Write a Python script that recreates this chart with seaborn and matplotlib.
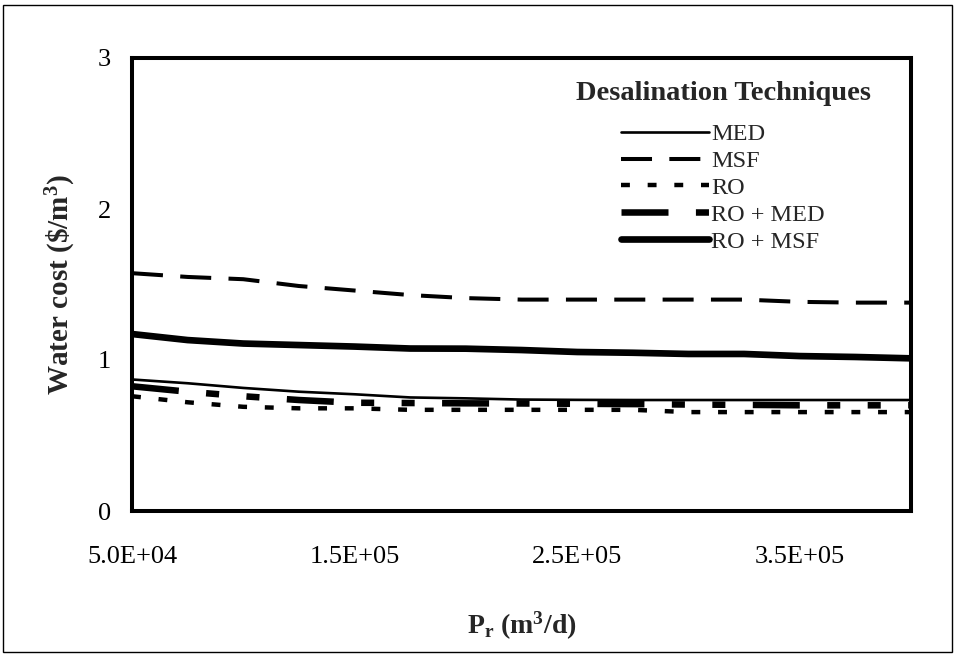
import matplotlib
matplotlib.use("Agg")
import matplotlib.pyplot as plt
import seaborn as sns
import numpy as np
import pandas as pd
from matplotlib.patches import Rectangle

# ---- data -------------------------------------------------------------
production = [50000, 75000, 100000, 125000, 150000, 175000, 200000, 225000,
              250000, 275000, 300000, 325000, 350000, 375000, 400000]
med = [0.871, 0.846, 0.815, 0.790, 0.773, 0.752, 0.746, 0.738, 0.736, 0.735,
       0.735, 0.735, 0.735, 0.735, 0.735]
msf = [1.575, 1.550, 1.535, 1.490, 1.460, 1.430, 1.410, 1.400, 1.400, 1.400,
       1.400, 1.400, 1.385, 1.380, 1.380]
ro = [0.760, 0.720, 0.690, 0.680, 0.680, 0.670, 0.670, 0.670, 0.670, 0.670,
      0.655, 0.655, 0.655, 0.655, 0.655]
ro_med = [0.826, 0.790, 0.760, 0.735, 0.717, 0.715, 0.713, 0.712, 0.710, 0.708,
          0.705, 0.703, 0.700, 0.700, 0.700]
ro_msf = [1.172, 1.132, 1.109, 1.099, 1.089, 1.076, 1.075, 1.066, 1.053, 1.048,
          1.040, 1.040, 1.026, 1.020, 1.011]
series_names = ["MED", "MSF", "RO", "RO + MED", "RO + MSF"]
y_ticks = [0, 1, 2, 3]
x_ticks = [50000, 150000, 250000, 350000]
x_tick_labels = ["5.0E+04", "1.5E+05", "2.5E+05", "3.5E+05"]

# ---- style ------------------------------------------------------------
sns.set_theme(style="white")
plt.rcParams["font.family"] = ["Liberation Serif", "DejaVu Serif"]
plt.rcParams["mathtext.fontset"] = "custom"
plt.rcParams["mathtext.rm"] = "Liberation Serif"
plt.rcParams["mathtext.bf"] = "Liberation Serif:bold"
plt.rcParams["mathtext.it"] = "Liberation Serif:italic"

fig = plt.figure(figsize=(9.55, 6.55), dpi=100)
fig.patch.set_facecolor("white")
ax = fig.add_axes([132 / 955, 1 - 511 / 655, (911 - 132) / 955, (511 - 58) / 655])

styles = {
    "MED": dict(lw=1.9, linestyle="-"),
    "MSF": dict(lw=2.9, linestyle=(0, (7.7, 4.3))),
    "RO": dict(lw=3.2, linestyle=(0, (2.0, 4.0))),
    "RO + MED": dict(lw=4.7, linestyle=(0, (7.2, 4.2, 2.0, 4.2, 2.0, 4.2))),
    "RO + MSF": dict(lw=4.8, linestyle="-", solid_capstyle="round"),
}
values = [med, msf, ro, ro_med, ro_msf]
for name, vals in zip(series_names, values):
    df = pd.DataFrame({"x": production, "y": vals})
    sns.lineplot(data=df, x="x", y="y", ax=ax, color="black", label=name,
                 **styles[name])

ax.set_xlim(50000, 400000)
ax.set_ylim(0, 3)
ax.set_xticks(x_ticks)
ax.set_xticklabels(x_tick_labels)
ax.set_yticks(y_ticks)
ax.tick_params(axis="x", direction="in", length=8, width=2.2, pad=25,
               labelsize=19, colors="black")
ax.tick_params(axis="y", direction="in", length=8, width=2.2, pad=15,
               labelsize=19, colors="black")
for s in ax.spines.values():
    s.set_visible(True)
    s.set_color("black")
    s.set_linewidth(2.9)

ax.set_xlabel(r"$\mathbf{P_r}$ (m$^{\mathbf{3}}$/d)", fontsize=20,
              fontweight="bold", labelpad=30)
ax.set_ylabel(r"Water cost (\$/m$^{\mathbf{3}}$)", fontsize=21,
              fontweight="bold", labelpad=14)

leg = ax.legend(loc="upper center", bbox_to_anchor=(0.759, 0.975),
                frameon=False, fontsize=17.5, handlelength=3.6,
                handletextpad=0.1, labelspacing=0.2, borderpad=0,
                title="Desalination Techniques",
                title_fontproperties={"weight": "bold", "size": 20.5,
                                      "family": "Liberation Serif"})
leg._legend_box.sep = 12

fig.patches.append(Rectangle((2.5 / 955, 3 / 655), 949.5 / 955, 647 / 655,
                             transform=fig.transFigure, fill=False,
                             edgecolor="black", lw=1.0))

fig.savefig("out.png", dpi=100, facecolor="white")
